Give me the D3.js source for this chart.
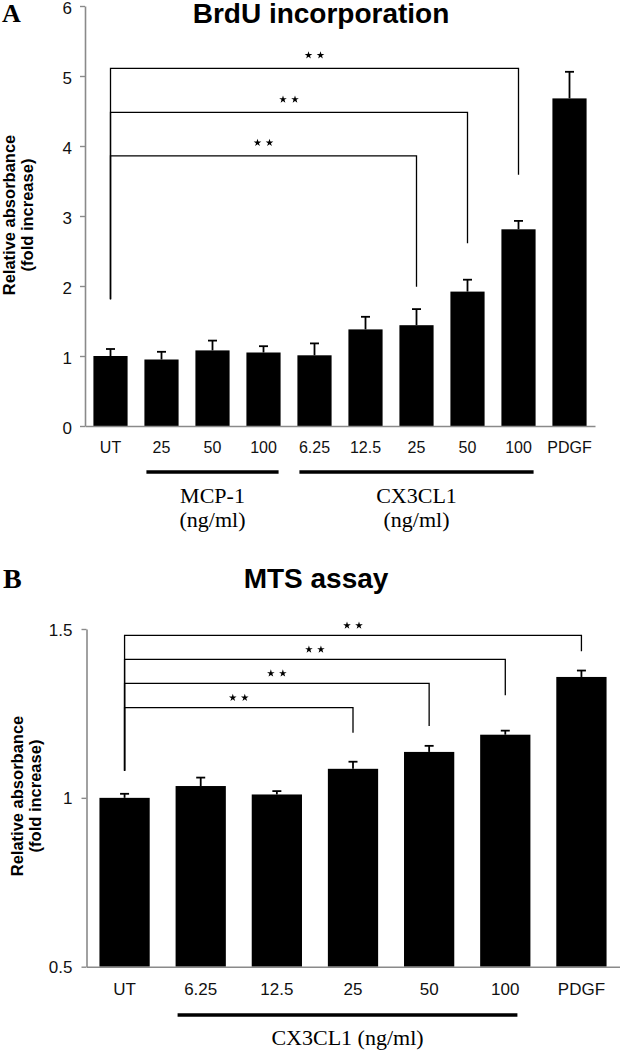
<!DOCTYPE html>
<html>
<head>
<meta charset="utf-8">
<script src="https://cdn.jsdelivr.net/npm/d3@7"></script>
<style>
  body { margin: 0; background: #fff; }
  svg { display: block; }
</style>
</head>
<body>
<svg id="chart"></svg>
<script>
// panel A: BrdU incorporation
const brduCategories = ["UT", "25", "50", "100", "6.25", "12.5", "25", "50", "100", "PDGF"];
const brduMeans = [1.00, 0.95, 1.08, 1.05, 1.01, 1.38, 1.44, 1.92, 2.81, 4.68];
const brduErrors = [0.10, 0.11, 0.14, 0.09, 0.17, 0.18, 0.23, 0.17, 0.12, 0.38];
const brduTicks = [0, 1, 2, 3, 4, 5, 6];
const brduBracketTo = [8, 7, 6];
const brduBracketLevel = [5.11, 4.48, 3.86];
const brduBracketEnd = [3.59, 2.61, 1.99];
const brduBracketStart = 1.81;
const brduGroups = [
  { from: 1, to: 3, label: ["MCP-1", "(ng/ml)"] },
  { from: 4, to: 8, label: ["CX3CL1", "(ng/ml)"] },
];

// panel B: MTS assay
const mtsCategories = ["UT", "6.25", "12.5", "25", "50", "100", "PDGF"];
const mtsMeans = [1.00, 1.035, 1.01, 1.086, 1.136, 1.187, 1.358];
const mtsErrors = [0.012, 0.025, 0.010, 0.021, 0.018, 0.012, 0.019];
const mtsTicks = [0.5, 1, 1.5];
const mtsBracketTo = [6, 5, 4, 3];
const mtsBracketLevel = [1.481, 1.41, 1.339, 1.267];
const mtsBracketEnd = [1.434, 1.304, 1.213, 1.193];
const mtsBracketStart = 1.08;
const mtsGroups = [
  { from: 1, to: 5, label: ["CX3CL1 (ng/ml)"] },
];

const W = 620, H = 1050;
const axisColor = "#8a8a8a";
const sans = "'Liberation Sans', Arial, sans-serif";
const serif = "'Liberation Serif', 'Times New Roman', serif";

const svg = d3.select("#chart").attr("width", W).attr("height", H);
svg.append("rect").attr("width", W).attr("height", H).attr("fill", "#fff");

function drawPanel(p) {
  const g = svg.append("g");
  const idx = d3.range(p.categories.length);

  const x = d3.scaleBand()
    .domain(idx)
    .range(p.xRange)
    .paddingInner(p.padIn)
    .paddingOuter(p.padIn / 2);
  const y = d3.scaleLinear().domain(p.yDomain).range(p.yRange);
  const cx = (i) => x(i) + x.bandwidth() / 2;

  // panel letter + title
  g.append("text")
    .attr("x", p.letterPos[0]).attr("y", p.letterPos[1])
    .attr("font-family", serif).attr("font-weight", "bold")
    .attr("font-size", p.letterSize)
    .text(p.letter);
  g.append("text")
    .attr("x", p.titlePos[0]).attr("y", p.titlePos[1])
    .attr("text-anchor", "middle")
    .attr("font-family", sans).attr("font-weight", "bold")
    .attr("font-size", 28)
    .text(p.title);

  // y axis
  const yAxis = d3.axisLeft(y)
    .tickValues(p.ticks)
    .tickSize(5)
    .tickSizeOuter(0)
    .tickPadding(p.yTickPad)
    .tickFormat(d3.format("~g"));
  const ya = g.append("g")
    .attr("transform", `translate(${p.xRange[0]},0)`)
    .call(yAxis);
  ya.select(".domain").attr("stroke", axisColor).attr("stroke-width", 1.6);
  ya.selectAll(".tick line").attr("stroke", axisColor).attr("stroke-width", 1.4);
  ya.selectAll(".tick text")
    .attr("dy", p.yTickDy)
    .attr("fill", "#111").attr("font-family", sans).attr("font-size", 17);

  // y label
  const ylab = g.append("text")
    .attr("transform", `translate(0,${p.yLabelCenter}) rotate(-90)`)
    .attr("text-anchor", "middle")
    .attr("font-family", sans).attr("font-weight", "bold")
    .attr("font-size", 16.5);
  ylab.append("tspan").attr("x", 0).attr("y", p.yLabelX[0]).text("Relative absorbance");
  ylab.append("tspan").attr("x", 0).attr("y", p.yLabelX[1]).text("(fold increase)");

  // bars
  g.append("g")
    .selectAll("rect")
    .data(idx)
    .join("rect")
    .attr("x", (i) => x(i))
    .attr("y", (i) => y(p.means[i]))
    .attr("width", x.bandwidth())
    .attr("height", (i) => y(p.yDomain[0]) - y(p.means[i]))
    .attr("fill", "#000");

  // error bars (upper only)
  const eb = g.append("g").attr("stroke", "#000").attr("stroke-width", 1.8);
  eb.selectAll("line.v")
    .data(idx)
    .join("line")
    .attr("class", "v")
    .attr("x1", cx).attr("x2", cx)
    .attr("y1", (i) => y(p.means[i]))
    .attr("y2", (i) => y(p.means[i] + p.errors[i]));
  eb.selectAll("line.c")
    .data(idx)
    .join("line")
    .attr("class", "c")
    .attr("x1", (i) => cx(i) - 4.5).attr("x2", (i) => cx(i) + 4.5)
    .attr("y1", (i) => y(p.means[i] + p.errors[i]))
    .attr("y2", (i) => y(p.means[i] + p.errors[i]));

  // x axis
  const xAxis = d3.axisBottom(x)
    .tickSize(0)
    .tickPadding(p.xTickPad)
    .tickFormat((i) => p.categories[i]);
  const xa = g.append("g")
    .attr("transform", `translate(0,${y(p.yDomain[0])})`)
    .call(xAxis);
  xa.select(".domain").attr("stroke", axisColor).attr("stroke-width", 1.6);
  xa.selectAll(".tick text")
    .attr("fill", "#111").attr("font-family", sans).attr("font-size", p.xTickSize);

  // significance brackets
  const star = d3.symbol(d3.symbolStar, 18);
  const br = g.append("g");
  p.bracketTo.forEach((to, k) => {
    const x0 = cx(0), x1 = cx(to);
    const yl = y(p.bracketLevel[k]);
    br.append("path")
      .attr("d", `M${x0},${y(p.bracketStart)}V${yl}H${x1}V${y(p.bracketEnd[k])}`)
      .attr("fill", "none").attr("stroke", "#000").attr("stroke-width", 1.3);
    const mx = (x0 + x1) / 2;
    [-6, 6].forEach((dx) => {
      br.append("path")
        .attr("d", star())
        .attr("transform", `translate(${mx + dx},${yl - p.starGap})`)
        .attr("fill", "#000");
    });
  });

  // group underlines + labels
  p.groups.forEach((gr) => {
    const xs = x(gr.from) + p.groupPad[0];
    const xe = x(gr.to) + x.bandwidth() + p.groupPad[1];
    g.append("line")
      .attr("x1", xs).attr("x2", xe)
      .attr("y1", p.groupLineY).attr("y2", p.groupLineY)
      .attr("stroke", "#000").attr("stroke-width", 3.5);
    gr.label.forEach((t, j) => {
      g.append("text")
        .attr("x", (xs + xe) / 2)
        .attr("y", p.groupLabelY + j * 24)
        .attr("text-anchor", "middle")
        .attr("font-family", serif).attr("font-size", 22)
        .text(t);
    });
  });
}

drawPanel({
  letter: "A", letterPos: [2, 22], letterSize: 26,
  title: "BrdU incorporation", titlePos: [321, 23],
  categories: brduCategories, means: brduMeans, errors: brduErrors, ticks: brduTicks,
  xRange: [85, 595], padIn: 0.33,
  yDomain: [0, 6], yRange: [426, 6],
  yTickPad: 8, yTickDy: "0.44em", xTickPad: 16, xTickSize: 16,
  yLabelCenter: 215, yLabelX: [14.5, 33],
  bracketTo: brduBracketTo, bracketLevel: brduBracketLevel,
  bracketEnd: brduBracketEnd, bracketStart: brduBracketStart, starGap: 13,
  groups: brduGroups, groupPad: [2, -2], groupLineY: 472, groupLabelY: 503,
});

drawPanel({
  letter: "B", letterPos: [3, 588], letterSize: 28,
  title: "MTS assay", titlePos: [316, 588],
  categories: mtsCategories, means: mtsMeans, errors: mtsErrors, ticks: mtsTicks,
  xRange: [86.5, 619.5], padIn: 0.34,
  yDomain: [0.5, 1.5], yRange: [966.7, 629],
  yTickPad: 9, yTickDy: "0.36em", xTickPad: 16, xTickSize: 17,
  yLabelCenter: 796, yLabelX: [23, 41],
  bracketTo: mtsBracketTo, bracketLevel: mtsBracketLevel,
  bracketEnd: mtsBracketEnd, bracketStart: mtsBracketStart, starGap: 10,
  groups: mtsGroups, groupPad: [2, -13], groupLineY: 1015, groupLabelY: 1045,
});
</script>
</body>
</html>
